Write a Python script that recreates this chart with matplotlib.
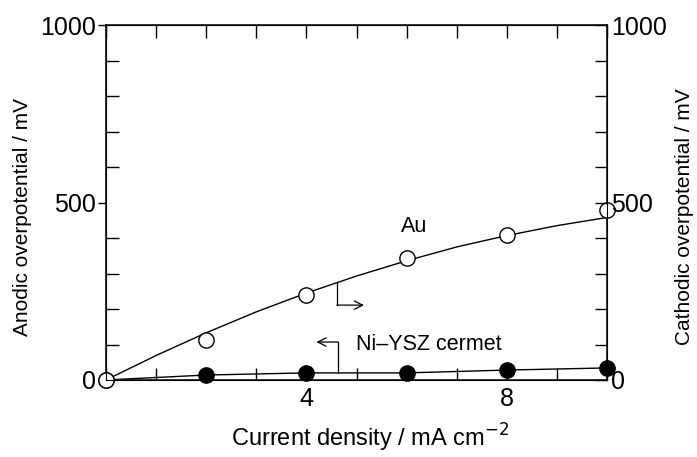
import matplotlib
matplotlib.use("Agg")
from matplotlib import pyplot as plt
import matplotlib.ticker as ticker

plt.rcParams['font.family'] = ['Liberation Sans', 'DejaVu Sans']

# measured points
current = [0, 2, 4, 6, 8, 10]
au_mv = [0, 113, 240, 344, 408, 479]
ni_mv = [0, 14, 20, 20, 28, 34]

# fitted curve through the Au points
au_fit_x = [0, 1, 2, 3, 4, 5, 6, 7, 8, 9, 10]
au_fit_mv = [0, 69, 133, 192, 245, 293, 336, 375, 407, 435, 458]

fig = plt.figure(figsize=(6.97, 4.57), dpi=100)
ax = fig.add_axes([0.152, 0.1685, 0.719, 0.7765])

ax.plot(au_fit_x, au_fit_mv, color='black', lw=1.0, clip_on=False, zorder=2)
ax.plot(current, ni_mv, color='black', lw=1.0, clip_on=False, zorder=2)
ax.plot(current, ni_mv, 'o', ms=11, mfc='black', mec='black',
        clip_on=False, zorder=3)
ax.plot(current, au_mv, 'o', ms=11, mfc='white', mec='black', mew=1.0,
        clip_on=False, zorder=4)

ax.set_xlim(0, 10)
ax.set_ylim(0, 1000)
ax.set_xticks([4, 8])
ax.xaxis.set_minor_locator(ticker.MultipleLocator(1))
ax.set_yticks([0, 500, 1000])
ax.yaxis.set_minor_locator(ticker.MultipleLocator(100))
ax.tick_params(axis='x', which='both', direction='in', top=True, length=9,
               width=1, labelsize=18, pad=5)
ax.tick_params(axis='y', which='major', direction='out', length=6, width=1,
               labelsize=18, pad=1)
ax.tick_params(axis='y', which='minor', direction='in', length=9, width=1)
for s in ax.spines.values():
    s.set_linewidth(1.1)

ax2 = ax.twinx()
ax2.set_ylim(0, 1000)
ax2.set_yticks([0, 500, 1000])
ax2.yaxis.set_minor_locator(ticker.MultipleLocator(100))
ax2.tick_params(axis='y', which='both', direction='in', length=9, width=1,
                labelsize=18, pad=3)

ax.set_xlabel('Current density / mA cm$^{-2}$', fontsize=17, va='center')
ax.xaxis.set_label_coords(0.527, -0.163)
ax.set_ylabel('Anodic overpotential / mV', fontsize=15, va='center')
ax.yaxis.set_label_coords(-0.166, 0.459)
ax2.set_ylabel('Cathodic overpotential / mV', fontsize=15, va='center')
ax2.yaxis.set_label_coords(1.155, 0.459)

ax.text(6.15, 432, 'Au', fontsize=15.5, ha='center', va='center')
ax.text(4.99, 99, 'Ni\u2013YSZ cermet', fontsize=15.5, ha='left', va='center')

arrow = dict(arrowstyle='->, head_length=0.6, head_width=0.3', lw=0.9,
             color='black', shrinkA=0, shrinkB=0)
# arrow pointing to the right axis (Au)
ax.plot([4.61, 4.61], [276, 211], color='black', lw=0.9)
ax.annotate('', xy=(5.15, 211), xytext=(4.61, 211), arrowprops=arrow)
# arrow pointing to the left axis (Ni-YSZ)
ax.plot([4.63, 4.63], [20, 107], color='black', lw=0.9)
ax.annotate('', xy=(4.2, 107), xytext=(4.63, 107), arrowprops=arrow)

plt.savefig('out.png', dpi=100)
